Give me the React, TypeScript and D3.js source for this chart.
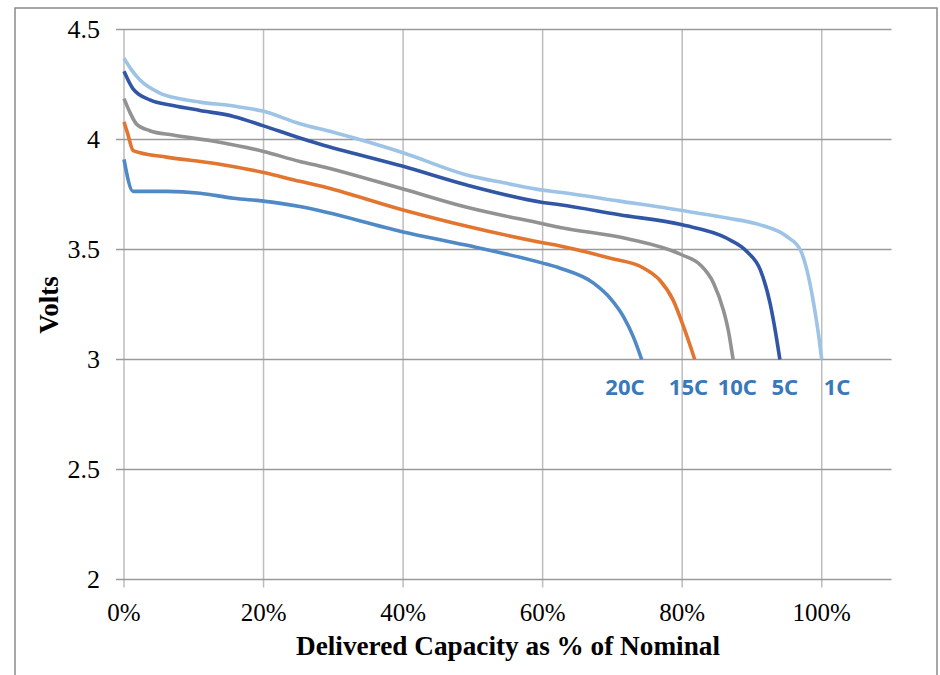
import React from "react";
import * as d3 from "d3";

// discharge curves: [capacity %, volts]
const curve1C: [number, number][] = [
  [0, 4.37], [1, 4.32], [2.3, 4.27], [5.2, 4.21], [8, 4.185], [10.9, 4.17], [15.7, 4.152],
  [20, 4.128], [25.2, 4.072], [30, 4.033], [40, 3.94], [49, 3.84], [55, 3.8], [60, 3.77],
  [62.5, 3.76], [71, 3.72], [80, 3.677], [86, 3.645], [91.2, 3.612], [95, 3.559],
  [96.9, 3.5], [98.1, 3.377], [99, 3.225], [99.6, 3.1], [100, 3.0],
];
const curve5C: [number, number][] = [
  [0, 4.31], [1.3, 4.23], [3.7, 4.18], [7, 4.155], [10.9, 4.132], [15.7, 4.105], [20, 4.062],
  [25.2, 4.007], [28, 3.98], [40, 3.878], [49, 3.794], [60, 3.714], [62.5, 3.703],
  [71, 3.658], [80, 3.612], [86.4, 3.551], [89.3, 3.49], [91.2, 3.407], [92.6, 3.255],
  [93.4, 3.12], [94, 3.0],
];
const curve10C: [number, number][] = [
  [0, 4.186], [0.9, 4.12], [1.8, 4.07], [3.7, 4.04], [7, 4.02], [13.3, 3.99], [20, 3.946],
  [25.2, 3.9], [28, 3.88], [40, 3.775], [49, 3.693], [60, 3.617], [62.5, 3.6], [72, 3.55],
  [80, 3.475], [82.6, 3.43], [84.5, 3.347], [85.9, 3.225], [86.6, 3.134], [87.3, 3.0],
];
const curve15C: [number, number][] = [
  [0, 4.08], [0.5, 4.03], [1.3, 3.95], [2.3, 3.94], [6.1, 3.92], [13.3, 3.89], [20, 3.85],
  [25.2, 3.81], [28, 3.79], [40, 3.68], [49, 3.607], [60, 3.531], [62.5, 3.516],
  [69.7, 3.46], [74.5, 3.415], [76.8, 3.36], [78.7, 3.27], [80.2, 3.149], [81.8, 3.0],
];
const curve20C: [number, number][] = [
  [0, 3.91], [1.3, 3.764], [6.1, 3.764], [10.9, 3.756], [15.7, 3.733], [20, 3.72],
  [25.2, 3.695], [40, 3.58], [49, 3.52], [60, 3.438], [62.5, 3.415], [67.3, 3.347],
  [69.7, 3.278], [71.6, 3.194], [73, 3.103], [74.2, 3.0],
];

const seriesNames = ["20C", "15C", "10C", "5C", "1C"];
const seriesCurves = [curve20C, curve15C, curve10C, curve5C, curve1C];
const seriesColors = ["#4F89C6", "#E2752F", "#929292", "#3156A6", "#9DC3E6"];
// where the rate labels sit, in capacity %
const labelX = [71.8, 80.9, 87.9, 94.7, 102.2];
const labelV = 2.838;

const xTicks = [0, 20, 40, 60, 80, 100];
const yTicks = [2, 2.5, 3, 3.5, 4, 4.5];

const serif = "'Liberation Serif', 'Times New Roman', serif";

export default function App() {
  const x = d3.scaleLinear().domain([0, 110]).range([124, 891.5]);
  const y = d3.scaleLinear().domain([2, 4.5]).range([579.5, 29.5]);

  const line = d3
    .line<[number, number]>()
    .x((d) => x(d[0]))
    .y((d) => y(d[1]))
    .curve(d3.curveMonotoneX);

  // draw the light one first so darker curves stay on top like the original
  const order = [4, 3, 2, 1, 0];

  return (
    <svg
      width={940}
      height={675}
      style={{ position: "fixed", left: 0, top: 0, background: "#fff" }}
    >
      {/* outer frame */}
      <rect x={15} y={8} width={922} height={680} fill="none" stroke="#8a8a8a" strokeWidth={1.5} />

      {/* vertical grid */}
      {xTicks.map((t) => (
        <line
          key={"vx" + t}
          x1={x(t)}
          x2={x(t)}
          y1={y(4.5)}
          y2={y(2) + 8}
          stroke="#bdbdbd"
          strokeWidth={1.5}
        />
      ))}
      {/* horizontal grid */}
      {yTicks.map((t) => (
        <line
          key={"hy" + t}
          x1={x(0) - 8}
          x2={x(110)}
          y1={y(t)}
          y2={y(t)}
          stroke="#9a9a9a"
          strokeWidth={1.3}
        />
      ))}

      {/* y tick labels */}
      {yTicks.map((t) => (
        <text
          key={"ly" + t}
          x={100}
          y={y(t)}
          dy="0.34em"
          textAnchor="end"
          fontFamily={serif}
          fontSize={26}
          fill="#000"
        >
          {t}
        </text>
      ))}
      {/* x tick labels */}
      {xTicks.map((t) => (
        <text
          key={"lx" + t}
          x={x(t)}
          y={621}
          textAnchor="middle"
          fontFamily={serif}
          fontSize={25}
          fill="#000"
        >
          {t + "%"}
        </text>
      ))}

      {/* curves */}
      {order.map((i) => (
        <path
          key={seriesNames[i]}
          d={line(seriesCurves[i]) || ""}
          fill="none"
          stroke={seriesColors[i]}
          strokeWidth={3.6}
          strokeLinejoin="round"
        />
      ))}

      {/* rate labels */}
      {seriesNames.map((n, i) => (
        <text
          key={"lab" + n}
          x={x(labelX[i])}
          y={y(labelV)}
          textAnchor="middle"
          fontFamily="'Noto Sans', 'Open Sans', sans-serif"
          fontWeight="bold"
          fontSize={22}
          fill="#3A78BC"
        >
          {n}
        </text>
      ))}

      {/* axis titles */}
      <text
        x={508}
        y={655}
        textAnchor="middle"
        fontFamily={serif}
        fontWeight="bold"
        fontSize={28}
        textLength={424}
        lengthAdjust="spacingAndGlyphs"
        fill="#000"
      >
        Delivered Capacity as % of Nominal
      </text>
      <text
        transform="translate(58,305) rotate(-90)"
        textAnchor="middle"
        fontFamily={serif}
        fontWeight="bold"
        fontSize={27}
        fill="#000"
      >
        Volts
      </text>
    </svg>
  );
}
